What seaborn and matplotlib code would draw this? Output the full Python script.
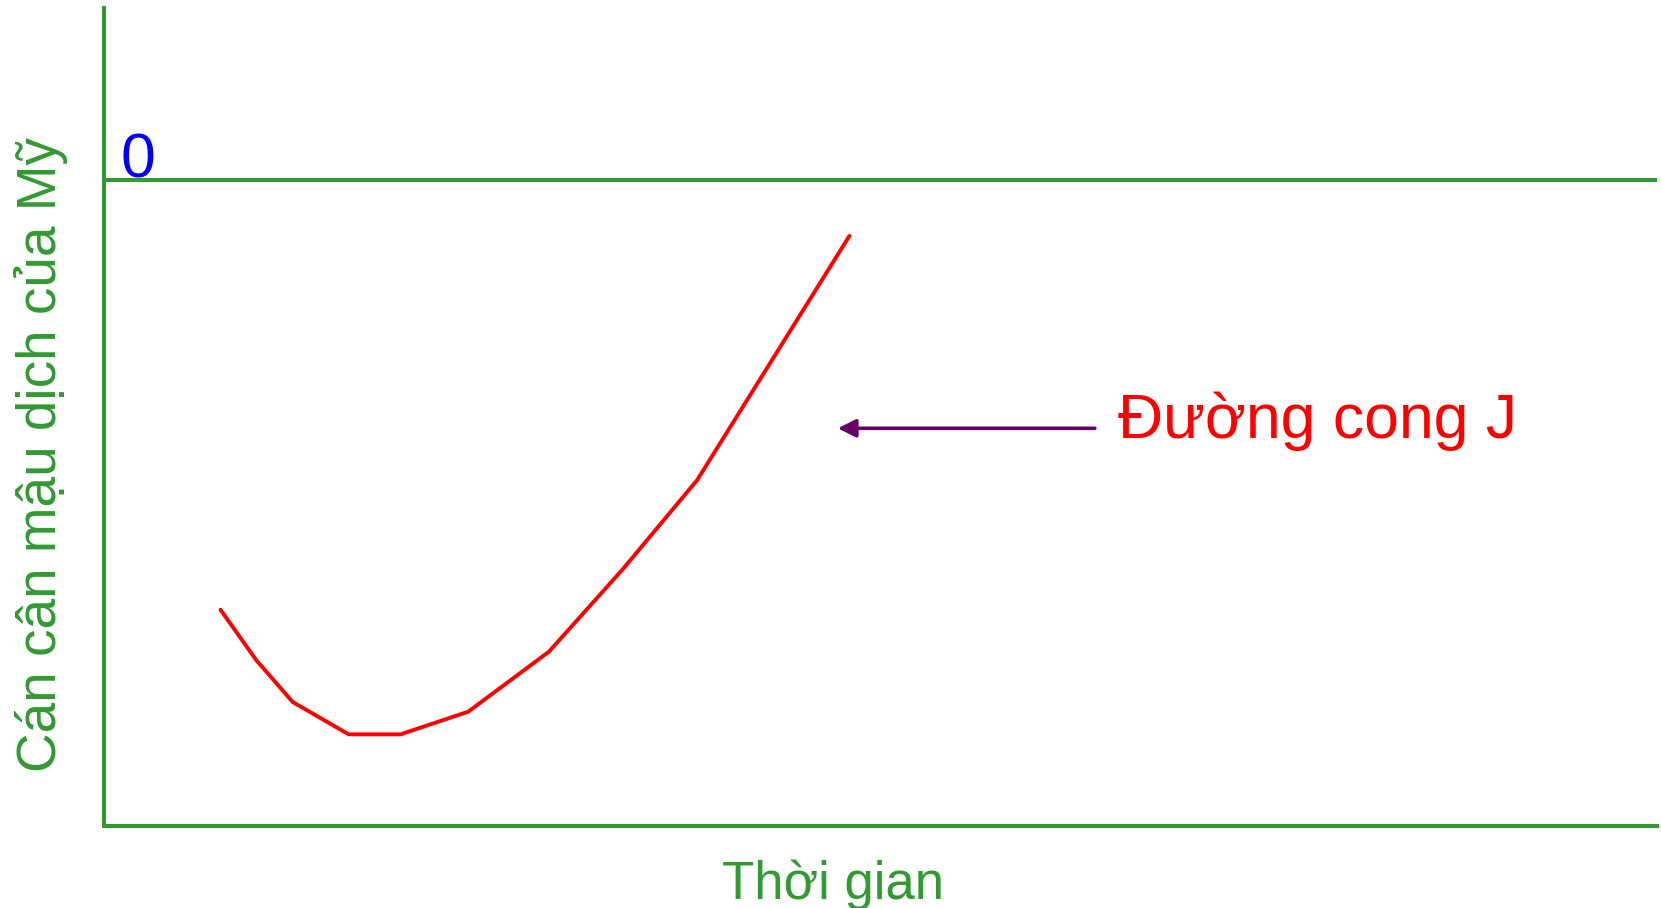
import matplotlib
matplotlib.use("Agg")
import matplotlib.pyplot as plt
import seaborn as sns
import pandas as pd

# Data
time = [1.5, 1.96, 2.43, 3.15, 3.82, 4.69, 5.73, 6.69, 7.64, 9.6]
balance = [-6.65, -7.43, -8.08, -8.58, -8.58, -8.23, -7.30, -6.01, -4.64, -0.86]
curve_label = "Đường cong J"
zero_label = "0"
x_title = "Thời gian"
y_title = "Cán cân mậu dịch của Mỹ"

sns.set_theme(style="white")
plt.rcParams["font.family"] = ["Liberation Sans", "DejaVu Sans"]

GREEN = "#339933"
RED = "#ff0000"
PURPLE = "#660066"

fig = plt.figure(figsize=(16.61, 9.08), dpi=100)
ax = fig.add_axes([104 / 1661, (908 - 826) / 908, 1553 / 1661, 818 / 908])

df = pd.DataFrame({"t": time, "b": balance})
sns.lineplot(data=df, x="t", y="b", ax=ax, color=RED, linewidth=2.8, sort=False)

ax.set_xlim(0, 20)
ax.set_ylim(-10, 2.67)

ax.axhline(0, color=GREEN, linewidth=2.9)

for s in ["top", "right"]:
    ax.spines[s].set_visible(False)
for s in ["left", "bottom"]:
    ax.spines[s].set_color(GREEN)
    ax.spines[s].set_linewidth(2.9)

ax.set_xticks([])
ax.set_yticks([])

ax.text(0.21, 0.04, zero_label, color="#0000ff", fontsize=45, va="baseline", ha="left")

ax.annotate("", xy=(9.45, -3.84), xytext=(12.76, -3.84),
            arrowprops=dict(arrowstyle="-|>", color=PURPLE, lw=2.6,
                            mutation_scale=27, shrinkA=0, shrinkB=0))
ax.text(13.06, -3.99, curve_label, color=RED, fontsize=45, va="baseline", ha="left")

ax.set_xlabel(x_title, color=GREEN, fontsize=38)
ax.xaxis.label.set_va("baseline")
ax.xaxis.set_label_coords((833 - 104) / 1553, (826 - 899) / 818)

ax.set_ylabel(y_title, color=GREEN, fontsize=39.5)
ax.yaxis.label.set_va("baseline")
ax.yaxis.set_label_coords((56 - 104) / 1553, (826 - 455) / 818)

fig.savefig("out.png", dpi=100, facecolor="white")
